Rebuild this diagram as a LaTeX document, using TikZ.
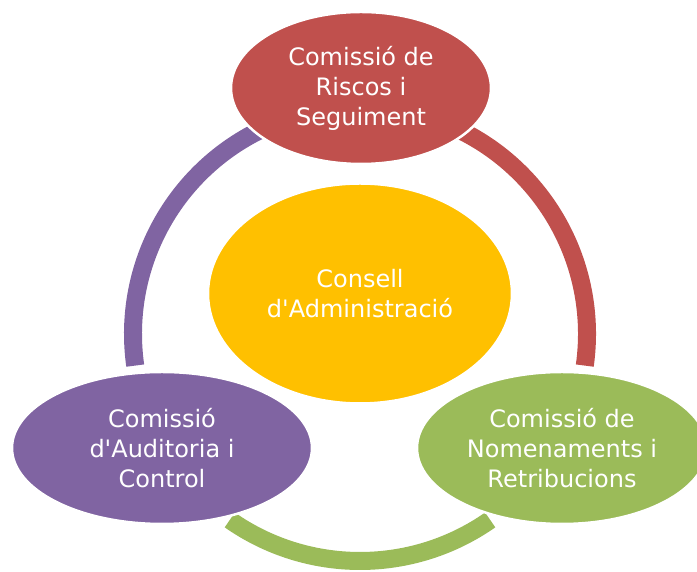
\documentclass[tikz,border=0pt]{standalone}
\usepackage{fontspec}
\setmainfont{DejaVu Sans}
\usetikzlibrary{shapes.geometric}
\definecolor{cred}{HTML}{C0504D}
\definecolor{cpurple}{HTML}{8064A2}
\definecolor{cgreen}{HTML}{9BBB59}
\definecolor{cgold}{HTML}{FFC000}
\tikzset{
  bubble/.style={ellipse, draw=white, line width=2.5pt, inner sep=0pt,
    text=white, align=center, font=\fontsize{24}{30}\selectfont},
  ringarc/.style={line width=18pt}
}
\begin{document}
\begin{tikzpicture}[x=1pt,y=1pt]
\useasboundingbox (0,0) rectangle (697,572);
\clip (0,0) rectangle (697,572);
\coordinate (ringc) at (360,238);
% ring segments
\draw[ringarc, cpurple] ([shift={(112:227)}]ringc) arc[start angle=112, end angle=188, radius=227];
\draw[ringarc, cred] ([shift={(68:227)}]ringc) arc[start angle=68, end angle=-8, radius=227];
\draw[ringarc, cgreen] ([shift={(235:227)}]ringc) arc[start angle=235, end angle=305, radius=227];
% nodes
\node[bubble, fill=cgold, minimum width=304pt, minimum height=220pt] (board) at (360,278.5) {Consell\\d\textquotesingle Administració};
\node[bubble, fill=cred, minimum width=260pt, minimum height=152pt] (risk) at (361,484) {Comissió de\\Riscos i\\Seguiment};
\node[bubble, fill=cpurple, minimum width=300pt, minimum height=152pt] (audit) at (162,124) {Comissió\\d\textquotesingle Auditoria i\\Control};
\node[bubble, fill=cgreen, minimum width=290pt, minimum height=152pt] (nom) at (562,124) {Comissió de\\Nomenaments i\\Retribucions};
\end{tikzpicture}
\end{document}
